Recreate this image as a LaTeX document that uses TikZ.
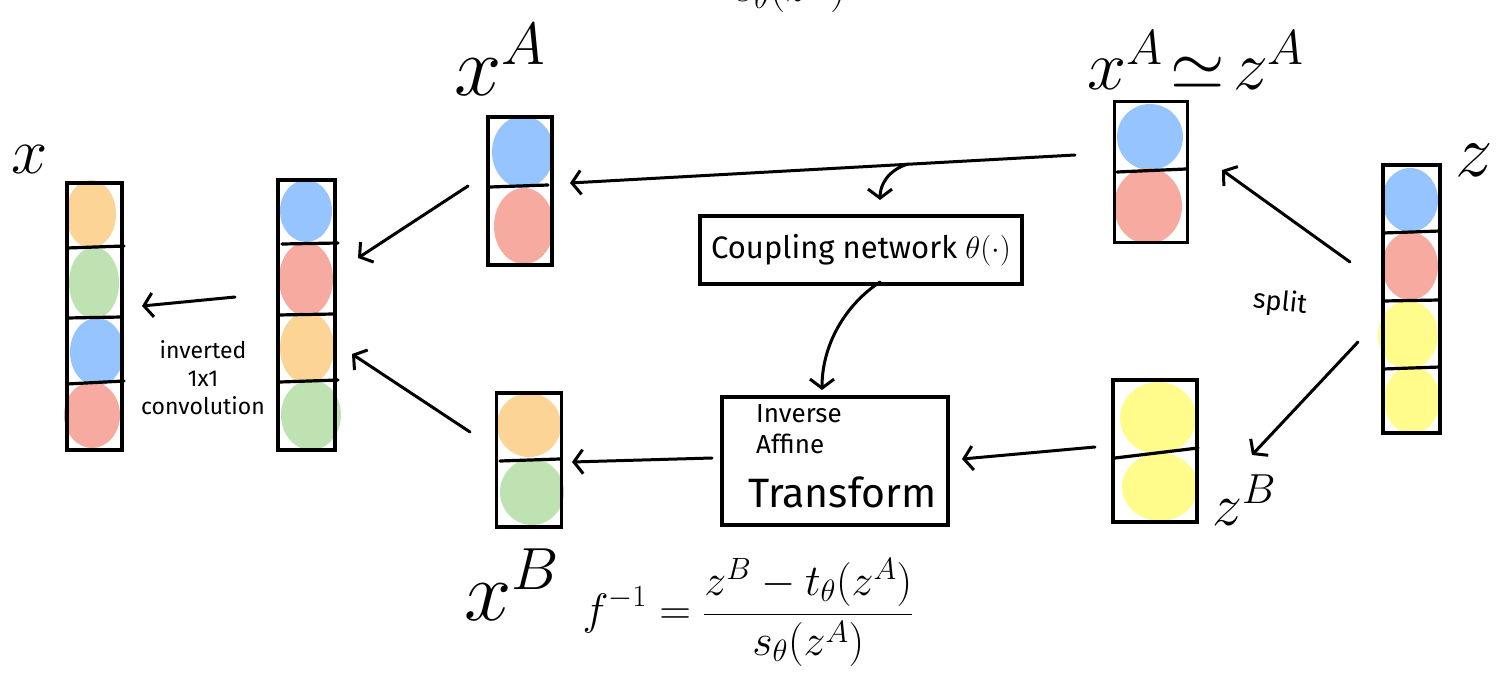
\RequirePackage{fix-cm}
\documentclass[tikz,border=0pt]{standalone}
\usepackage{fontspec}
\setsansfont{Fira Sans}
\usetikzlibrary{arrows.meta}
\definecolor{cblue}{RGB}{150,196,255}
\definecolor{cred}{RGB}{246,170,160}
\definecolor{corange}{RGB}{252,212,150}
\definecolor{cgreen}{RGB}{190,226,178}
\definecolor{cyellow}{RGB}{255,252,140}
\tikzset{
  col/.style={draw, line width=3.6pt, inner sep=0pt, fill=none},
  dv/.style={line width=3.2pt, line cap=round},
  arr/.style={line width=3pt, line cap=round, -{Straight Barb[length=9pt,width=24pt,line width=3pt]}},
  lbl/.style={inner sep=0pt, font=\fontsize{85}{90}\selectfont},
  txt/.style={inner sep=0pt, font=\sffamily\fontsize{25}{29}\selectfont, align=center},
  box/.style={draw, line width=3.6pt, inner sep=0pt}
}
\begin{document}
\begin{tikzpicture}[x=1pt,y=-1pt]
\useasboundingbox (0,0) rectangle (1505,682);

% ---- colour blobs ----
% column x
\fill[corange] (91,214) ellipse (25 and 34);
\fill[cgreen] (94,283) ellipse (25 and 36);
\fill[cblue] (97,352) ellipse (27 and 34);
\fill[cred] (92,415) ellipse (28 and 33);
% column 2
\fill[cblue] (306,211) ellipse (26 and 31);
\fill[cred] (306,279) ellipse (27 and 37);
\fill[corange] (307,348) ellipse (27 and 36);
\fill[cgreen] (311,415) ellipse (30 and 35);
% x^A column
\fill[cblue] (523,152) ellipse (31 and 36);
\fill[cred] (524,226) ellipse (30 and 38);
% x^B column
\fill[corange] (529,425) ellipse (32 and 32);
\fill[cgreen] (532,492) ellipse (32 and 33);
% x^A ~ z^A column
\fill[cblue] (1150,137) ellipse (33 and 33);
\fill[cred] (1148,206) ellipse (34 and 38);
% z^B column
\fill[cyellow] (1158,418) ellipse (38 and 36);
\fill[cyellow] (1160,487) ellipse (38 and 34);
% z column
\fill[cblue] (1410,200) ellipse (28 and 32);
\fill[cred] (1410,266) ellipse (28 and 34);
\fill[cyellow] (1408,335) ellipse (30 and 34);
\fill[cyellow] (1412,400) ellipse (28 and 34);

% ---- columns ----
\node[col, minimum width=55pt, minimum height=267pt] (c0) at (94.5,316.5) {};
\draw[dv] (67,248) -- (124,246);
\draw[dv] (67,318) -- (122,317);
\draw[dv] (67,384) -- (124,381);

\node[col, minimum width=57pt, minimum height=270pt] (c1) at (306.5,315) {};
\draw[dv] (282,244) -- (338,243);
\draw[dv] (278,315) -- (334,314);
\draw[dv] (280,382) -- (338,380);

\node[col, minimum width=64pt, minimum height=148pt] (c2) at (520,191) {};
\draw[dv] (490,187) -- (548,185);

\node[col, minimum width=65pt, minimum height=134pt] (c3) at (529,460) {};
\draw[dv] (500,461) -- (560,459);

\node[col, minimum width=73pt, minimum height=141pt] (c4) at (1151,172) {};
\draw[dv] (1117,172) -- (1186,169);

\node[col, minimum width=84pt, minimum height=142pt] (c5) at (1155,451) {};
\draw[dv] (1115,458) -- (1198,448);

\node[col, minimum width=57pt, minimum height=268pt] (c6) at (1411.5,299) {};
\draw[dv] (1383,233) -- (1440,231);
\draw[dv] (1383,301) -- (1440,300);
\draw[dv] (1383,369) -- (1440,367);

% ---- boxes ----
\node[box, minimum width=322pt, minimum height=68pt] (cp) at (861,250)
  {\sffamily\fontsize{31}{34}\selectfont Coupling network $\theta(\cdot)$};
\node[box, minimum width=226pt, minimum height=128pt] (ia) at (835,461) {};
\node[txt, anchor=west, font=\sffamily\fontsize{26}{30}\selectfont] (ia1) at (756,414) {Inverse};
\node[txt, anchor=west, font=\sffamily\fontsize{26}{30}\selectfont] (ia2) at (756,444) {Affine};
\node[txt, anchor=west, font=\sffamily\fontsize{41}{45}\selectfont] (ia3) at (748,492) {Transform};

% ---- labels ----
\node[lbl, font=\fontsize{65}{70}\selectfont] (lx) at (30,160) {$x$};
\node[lbl] (lxa) at (500,60) {$x^A$};
\node[lbl] (lxb) at (512,585) {$x^B$};
\node[lbl, font=\fontsize{70}{75}\selectfont] (lxz) at (1196,60) {$x^A\!\simeq\! z^A$};
\node[lbl, font=\fontsize{75}{80}\selectfont] (lz) at (1474,160) {$z$};
\node[lbl, font=\fontsize{60}{65}\selectfont] (lzb) at (1244,500) {$z^B$};
\node[txt, rotate=-6, font=\sffamily\fontsize{27}{31}\selectfont] (sp) at (1280,303) {split};
\node[txt, font=\sffamily\fontsize{23}{28}\selectfont] (ic) at (203,378) {inverted\\1x1\\convolution};
\node[inner sep=0pt, font=\fontsize{44}{50}\selectfont] (fm) at (748,612)
  {$\displaystyle f^{-1} = \frac{z^B - t_\theta(z^A)}{s_\theta(z^A)}$};
\node[inner sep=0pt, anchor=base, font=\fontsize{44}{50}\selectfont] (top) at (790,2)
  {$s_\theta(z^A)$};

% ---- connector end points ----
\coordinate (a1s) at (1075,155); \coordinate (a1e) at (570,183);
\coordinate (a2s) at (908,164);  \coordinate (a2e) at (880,200);
\coordinate (a3s) at (880,282);  \coordinate (a3e) at (822,390);
\coordinate (a4s) at (1095,447); \coordinate (a4e) at (962,459);
\coordinate (a5s) at (712,458);  \coordinate (a5e) at (572,462);
\coordinate (a6s) at (1350,262); \coordinate (a6e) at (1222,170);
\coordinate (a7s) at (1358,342); \coordinate (a7e) at (1252,455);
\coordinate (a8s) at (468,186);  \coordinate (a8e) at (358,258);
\coordinate (a9s) at (470,432);  \coordinate (a9e) at (352,354);
\coordinate (a10s) at (235,297); \coordinate (a10e) at (142,306);

% ---- connectors ----
\draw[arr] (a1s) -- (a1e);
\draw[arr] (a2s) .. controls (888,170) and (880,185) .. (a2e);
\draw[arr] (a3s) .. controls (845,305) and (822,345) .. (a3e);
\draw[arr] (a4s) -- (a4e);
\draw[arr] (a5s) -- (a5e);
\draw[arr] (a6s) -- (a6e);
\draw[arr] (a7s) -- (a7e);
\draw[arr] (a8s) -- (a8e);
\draw[arr] (a9s) -- (a9e);
\draw[arr] (a10s) -- (a10e);
\end{tikzpicture}
\end{document}
